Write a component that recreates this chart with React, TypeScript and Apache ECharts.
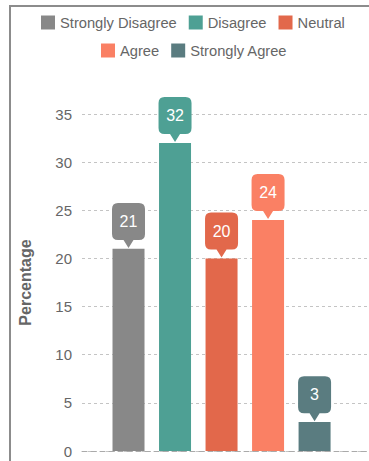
import React, { useEffect, useRef } from "react";
import * as echarts from "echarts";

const categories = ["Strongly Disagree", "Disagree", "Neutral", "Agree", "Strongly Agree"];
const values = [21, 32, 20, 24, 3];
const positions = [1, 2, 3, 4, 5];
const colors = ["#888888", "#4ea094", "#e2684b", "#fa8064", "#5a7c80"];
const yTicks = { min: 0, max: 35, interval: 5 };
const legendRow1 = categories.slice(0, 3);
const legendRow2 = categories.slice(3);

const CALLOUT =
  "path://M6,0 H27 Q33,0 33,6 V31 Q33,37 27,37 H21.5 L16.5,45 L11.5,37 H6 Q0,37 0,31 V6 Q0,0 6,0 Z";

const legendBase = {
  icon: "rect",
  itemWidth: 14,
  itemHeight: 14,
  itemGap: 12,
  padding: 5,
  textStyle: { color: "#666", fontSize: 14.7 },
};

export default function App() {
  const ref = useRef<HTMLDivElement>(null);
  useEffect(() => {
    if (!ref.current) return;
    const chart = echarts.init(ref.current, undefined, { renderer: "svg" });
    chart.setOption({
      animation: false,
      textStyle: { fontFamily: "Liberation Sans, Arial, sans-serif" },
      graphic: [
        {
          type: "polyline",
          shape: { points: [[10, 461], [10, 6], [369, 6]] },
          style: { stroke: "#8c8c8c", lineWidth: 2, fill: null },
          silent: true,
        },
      ],
      legend: [
        { ...legendBase, data: legendRow1, top: 10, left: 36 },
        { ...legendBase, data: legendRow2, top: 38, left: 96 },
      ],
      grid: { left: 82, right: 0, top: 114, bottom: 10 },
      xAxis: {
        type: "value",
        min: 0,
        max: 6.17,
        axisLabel: { show: false },
        axisTick: { show: false },
        splitLine: { show: false },
        axisLine: { show: true, lineStyle: { color: "#aaa", type: [5, 4], width: 1 } },
      },
      yAxis: {
        type: "value",
        min: yTicks.min,
        max: yTicks.max,
        interval: yTicks.interval,
        name: "Percentage",
        nameLocation: "middle",
        nameGap: 49,
        nameTextStyle: { color: "#666", fontSize: 16, fontWeight: "bold" },
        axisLine: { show: false },
        axisTick: { show: false },
        axisLabel: { color: "#666", fontSize: 15, margin: 10 },
        splitLine: { lineStyle: { color: "#c4c4c4", type: [3, 3], width: 1 } },
      },
      series: categories.map((name, i) => ({
        name,
        type: "bar",
        data: [[positions[i], values[i]]],
        barWidth: 32,
        barGap: "-100%",
        itemStyle: { color: colors[i] },
        markPoint: {
          symbol: CALLOUT,
          symbolSize: [33, 45],
          symbolOffset: [0, "-52%"],
          itemStyle: { color: colors[i] },
          label: {
            show: true,
            color: "#fff",
            fontSize: 16,
            offset: [0, -4],
            formatter: "{c}",
          },
          data: [{ coord: [positions[i], values[i]], value: values[i] }],
        },
      })),
    });
    return () => chart.dispose();
  }, []);
  return (
    <div style={{ position: "fixed", left: 0, top: 0, width: 369, height: 461, background: "#fff" }}>
      <div ref={ref} style={{ width: 369, height: 461 }} />
    </div>
  );
}
